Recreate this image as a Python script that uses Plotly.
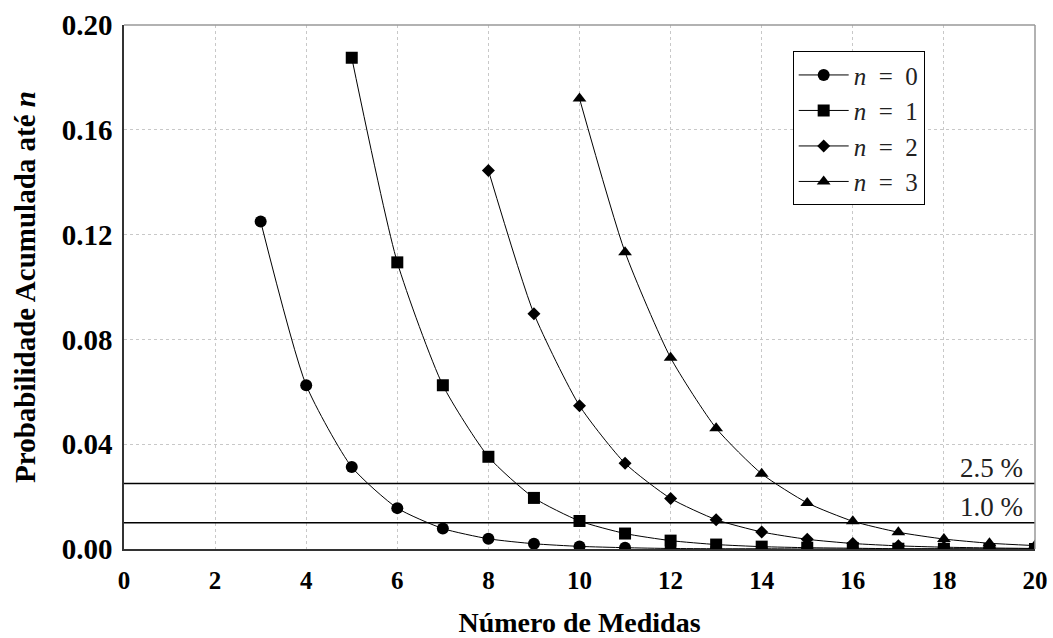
import plotly.graph_objects as go

x_n0 = [3, 4, 5, 6, 7, 8, 9, 10, 11, 12, 13, 14, 15, 16, 17, 18, 19, 20]
y_n0 = [0.125, 0.0625, 0.0313, 0.0156, 0.0078, 0.0039, 0.0020, 0.0010, 0.0005, 0.0002,
        0.0001, 0.0001, 0.0000, 0.0000, 0.0000, 0.0000, 0.0000, 0.0000]
x_n1 = [5, 6, 7, 8, 9, 10, 11, 12, 13, 14, 15, 16, 17, 18, 19, 20]
y_n1 = [0.1875, 0.1094, 0.0625, 0.0352, 0.0195, 0.0107, 0.0059, 0.0032, 0.0017, 0.0009,
        0.0005, 0.0003, 0.0001, 0.0001, 0.0000, 0.0000]
x_n2 = [8, 9, 10, 11, 12, 13, 14, 15, 16, 17, 18, 19, 20]
y_n2 = [0.1445, 0.0898, 0.0547, 0.0327, 0.0193, 0.0112, 0.0065, 0.0037, 0.0021, 0.0012,
        0.0007, 0.0004, 0.0002]
x_n3 = [10, 11, 12, 13, 14, 15, 16, 17, 18, 19, 20]
y_n3 = [0.1719, 0.1133, 0.0730, 0.0461, 0.0287, 0.0176, 0.0106, 0.0064, 0.0038, 0.0022, 0.0013]

series_names = ["<i>n</i>&nbsp;&nbsp;=&nbsp;&nbsp;0", "<i>n</i>&nbsp;&nbsp;=&nbsp;&nbsp;1",
                "<i>n</i>&nbsp;&nbsp;=&nbsp;&nbsp;2", "<i>n</i>&nbsp;&nbsp;=&nbsp;&nbsp;3"]
limit_values = [0.025, 0.010]
limit_labels = ["2.5 %", "1.0 %"]

FONT = "Liberation Serif, Times New Roman, serif"

fig = go.Figure()
series = [
    (x_n0, y_n0, "circle", 12),
    (x_n1, y_n1, "square", 12),
    (x_n2, y_n2, "diamond", 10),
    (x_n3, y_n3, "triangle-up", 12),
]
for (xs, ys, sym, sz), name in zip(series, series_names):
    fig.add_trace(go.Scatter(
        x=xs, y=ys, mode="lines+markers", name=name,
        line=dict(color="black", width=1, shape="spline", smoothing=0.6),
        marker=dict(symbol=sym, size=sz, color="black"),
    ))

for v, lab in zip(limit_values, limit_labels):
    fig.add_shape(type="line", xref="x", yref="y", x0=0, x1=20, y0=v, y1=v,
                  line=dict(color="black", width=1.5))
    fig.add_annotation(x=20, y=v, xref="x", yref="y", text=lab, showarrow=False,
                       xanchor="right", yanchor="bottom", xshift=-10, yshift=-1,
                       font=dict(family=FONT, size=27, color="#222"))

fig.update_layout(
    width=1053, height=638,
    margin=dict(l=124, r=18, t=25, b=89, autoexpand=False),
    paper_bgcolor="white", plot_bgcolor="white",
    font=dict(family=FONT, color="black"),
    showlegend=True,
    legend=dict(
        x=0.734, y=0.95, xanchor="left", yanchor="top",
        bgcolor="white", bordercolor="black", borderwidth=1,
        font=dict(family=FONT, size=25, color="#222"),
        itemwidth=50, tracegroupgap=0,
    ),
    xaxis=dict(
        range=[0, 20], dtick=2, tick0=0, automargin=False,
        showgrid=True, gridcolor="#c8c8c8", griddash="dot", gridwidth=1,
        showline=True, linecolor="#333", linewidth=1.5, mirror=False,
        zeroline=False, ticks="", ticklabelstandoff=8,
        tickfont=dict(family=FONT, size=25, color="black", weight="bold"),
        title=dict(text="<b>Número de Medidas</b>", font=dict(family=FONT, size=28, color="black"),
                   standoff=24),
    ),
    yaxis=dict(
        range=[0, 0.2], dtick=0.04, tick0=0, tickformat=".2f", automargin=False,
        showgrid=True, gridcolor="#c8c8c8", griddash="dot", gridwidth=1,
        showline=True, linecolor="#333", linewidth=1.5,
        zeroline=False, ticks="", ticklabelstandoff=4,
        tickfont=dict(family=FONT, size=29, color="black", weight="bold"),
        title=dict(text="<b>Probabilidade Acumulada até <i>n</i></b>",
                   font=dict(family=FONT, size=29, color="black"), standoff=18),
    ),
)
# top and right frame lines in gray
fig.add_shape(type="line", xref="paper", yref="paper", x0=0, x1=1, y0=1, y1=1,
              line=dict(color="#999", width=1.5))
fig.add_shape(type="line", xref="paper", yref="paper", x0=1, x1=1, y0=0, y1=1,
              line=dict(color="#999", width=1.5))

fig.write_html("out.html", config={"displayModeBar": False},
               post_script="document.body.style.margin='0';document.body.style.overflow='hidden';")
